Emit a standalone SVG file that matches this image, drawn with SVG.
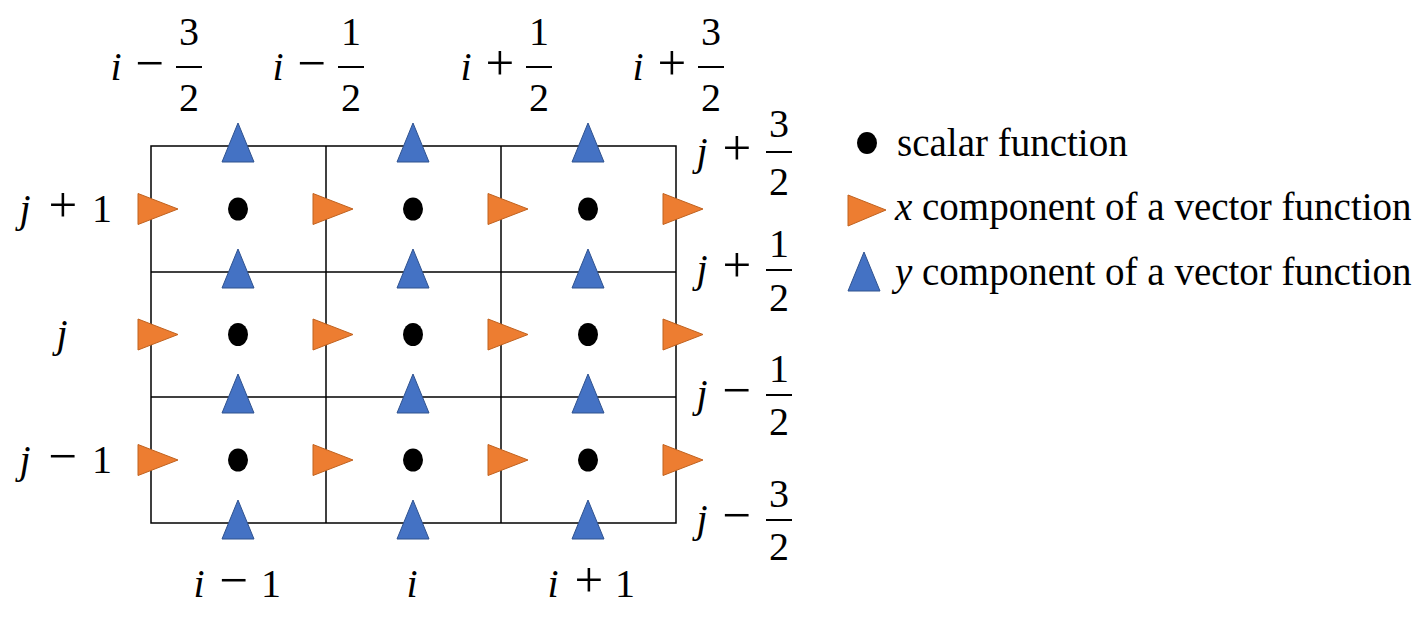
<svg xmlns="http://www.w3.org/2000/svg" xmlns:xlink="http://www.w3.org/1999/xlink" width="1417" height="617" viewBox="0 0 1417 617">
<style>
.m{font-family:"Liberation Serif","Times New Roman",serif;font-size:40px;fill:#000;text-anchor:middle}
.it{font-style:italic}
.op{font-size:51px}
.lg{font-family:"Liberation Serif","Times New Roman",serif;font-size:39px;fill:#000}
.grid{stroke:#000;stroke-width:1.5;fill:none}
.bar{stroke:#000;stroke-width:2}
.xv{fill:#ED7D31;stroke:#C0621F;stroke-width:1}
.yv{fill:#4472C4;stroke:#2F528F;stroke-width:1}
.sc{fill:#000}
</style>
<defs>
<polygon id="tx" class="xv" points="0,-15.5 40,0 0,15.5"/>
<polygon id="ty" class="yv" points="-16,16 0,-23 16,16"/>
<ellipse id="dot" class="sc" rx="10" ry="11.5"/>
</defs>
<rect width="1417" height="617" fill="#fff"/>
<g id="grid" class="grid">
<rect x="151" y="146" width="525" height="377"/>
<line x1="326" y1="146" x2="326" y2="523"/>
<line x1="501" y1="146" x2="501" y2="523"/>
<line x1="151" y1="272" x2="676" y2="272"/>
<line x1="151" y1="397" x2="676" y2="397"/>
</g>
<g id="scalar-points">
<use xlink:href="#dot" x="238" y="209"/><use xlink:href="#dot" x="413" y="209"/><use xlink:href="#dot" x="588" y="209"/>
<use xlink:href="#dot" x="238" y="334.5"/><use xlink:href="#dot" x="413" y="334.5"/><use xlink:href="#dot" x="588" y="334.5"/>
<use xlink:href="#dot" x="238" y="460"/><use xlink:href="#dot" x="413" y="460"/><use xlink:href="#dot" x="588" y="460"/>
</g>
<g id="x-components">
<use xlink:href="#tx" x="138" y="209"/><use xlink:href="#tx" x="313" y="209"/><use xlink:href="#tx" x="488" y="209"/><use xlink:href="#tx" x="663" y="209"/>
<use xlink:href="#tx" x="138" y="334.5"/><use xlink:href="#tx" x="313" y="334.5"/><use xlink:href="#tx" x="488" y="334.5"/><use xlink:href="#tx" x="663" y="334.5"/>
<use xlink:href="#tx" x="138" y="460"/><use xlink:href="#tx" x="313" y="460"/><use xlink:href="#tx" x="488" y="460"/><use xlink:href="#tx" x="663" y="460"/>
</g>
<g id="y-components">
<use xlink:href="#ty" x="238" y="146"/><use xlink:href="#ty" x="413" y="146"/><use xlink:href="#ty" x="588" y="146"/>
<use xlink:href="#ty" x="238" y="272"/><use xlink:href="#ty" x="413" y="272"/><use xlink:href="#ty" x="588" y="272"/>
<use xlink:href="#ty" x="238" y="397"/><use xlink:href="#ty" x="413" y="397"/><use xlink:href="#ty" x="588" y="397"/>
<use xlink:href="#ty" x="238" y="523"/><use xlink:href="#ty" x="413" y="523"/><use xlink:href="#ty" x="588" y="523"/>
</g>
<g id="top-labels">
<g id="lbl-i-m32">
<text class="m it" x="116" y="80">i</text><text class="m op" x="150" y="80">−</text>
<text class="m" x="189" y="45">3</text><line class="bar" x1="176" y1="67" x2="202" y2="67"/><text class="m" x="189" y="111">2</text>
</g>
<g id="lbl-i-m12">
<text class="m it" x="278" y="80">i</text><text class="m op" x="312" y="80">−</text>
<text class="m" x="351" y="45">1</text><line class="bar" x1="338" y1="67" x2="364" y2="67"/><text class="m" x="351" y="111">2</text>
</g>
<g id="lbl-i-p12">
<text class="m it" x="466" y="80">i</text><text class="m op" x="500" y="80">+</text>
<text class="m" x="539" y="45">1</text><line class="bar" x1="526" y1="67" x2="552" y2="67"/><text class="m" x="539" y="111">2</text>
</g>
<g id="lbl-i-p32">
<text class="m it" x="638" y="80">i</text><text class="m op" x="672" y="80">+</text>
<text class="m" x="711" y="45">3</text><line class="bar" x1="698" y1="67" x2="724" y2="67"/><text class="m" x="711" y="111">2</text>
</g>
</g>
<g id="right-labels">
<g id="lbl-j-p32">
<text class="m it" x="702" y="165">j</text><text class="m op" x="737" y="165">+</text>
<text class="m" x="779" y="137">3</text><line class="bar" x1="766" y1="152" x2="792" y2="152"/><text class="m" x="779" y="195">2</text>
</g>
<g id="lbl-j-p12">
<text class="m it" x="702" y="282">j</text><text class="m op" x="737" y="282">+</text>
<text class="m" x="779" y="257">1</text><line class="bar" x1="766" y1="270" x2="792" y2="270"/><text class="m" x="779" y="311">2</text>
</g>
<g id="lbl-j-m12">
<text class="m it" x="702" y="407">j</text><text class="m op" x="737" y="407">−</text>
<text class="m" x="779" y="382">1</text><line class="bar" x1="766" y1="395" x2="792" y2="395"/><text class="m" x="779" y="435">2</text>
</g>
<g id="lbl-j-m32">
<text class="m it" x="702" y="532">j</text><text class="m op" x="737" y="532">−</text>
<text class="m" x="779" y="507">3</text><line class="bar" x1="766" y1="520" x2="792" y2="520"/><text class="m" x="779" y="560">2</text>
</g>
</g>
<g id="left-labels">
<g id="lbl-j-p1"><text class="m it" x="25" y="222">j</text><text class="m op" x="63" y="222">+</text><text class="m" x="102" y="222">1</text></g>
<g id="lbl-j"><text class="m it" x="62" y="347">j</text></g>
<g id="lbl-j-m1"><text class="m it" x="25" y="473">j</text><text class="m op" x="63" y="473">−</text><text class="m" x="102" y="473">1</text></g>
</g>
<g id="bottom-labels">
<g id="lbl-i-m1"><text class="m it" x="199" y="597">i</text><text class="m op" x="234" y="597">−</text><text class="m" x="271" y="597">1</text></g>
<g id="lbl-i"><text class="m it" x="412" y="597">i</text></g>
<g id="lbl-i-p1"><text class="m it" x="553" y="597">i</text><text class="m op" x="589" y="597">+</text><text class="m" x="625" y="597">1</text></g>
</g>
<g id="legend">
<g id="legend-scalar"><ellipse class="sc" cx="867" cy="143" rx="10" ry="11"/><text class="lg" x="897" y="156">scalar function</text></g>
<g id="legend-x"><polygon class="xv" points="848,195 886,210 848,226"/><text class="lg" x="895" y="220"><tspan font-style="italic">x</tspan> component of a vector function</text></g>
<g id="legend-y"><polygon class="yv" points="848,291 864,252 880,291"/><text class="lg" x="895" y="285"><tspan font-style="italic">y</tspan> component of a vector function</text></g>
</g>
</svg>
